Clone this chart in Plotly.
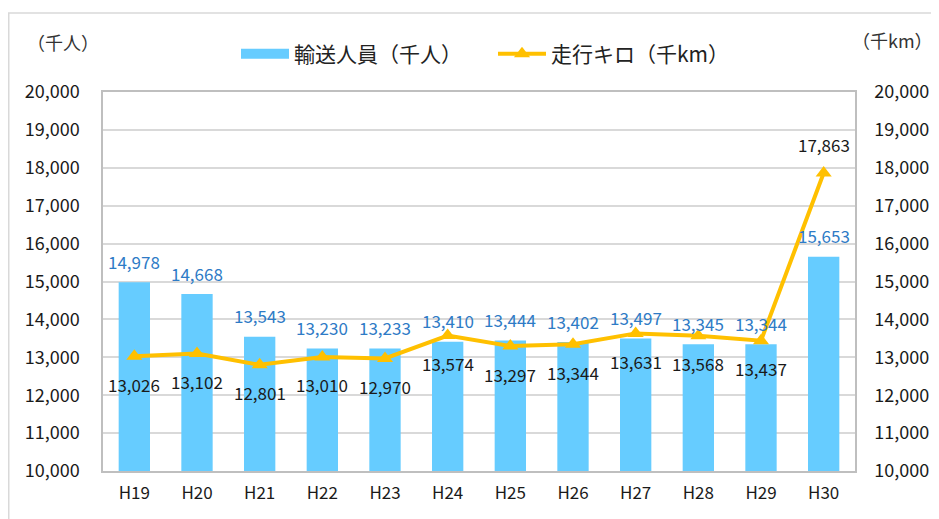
import plotly.graph_objects as go

categories = ["H19", "H20", "H21", "H22", "H23", "H24", "H25", "H26", "H27", "H28", "H29", "H30"]
passengers = [14978, 14668, 13543, 13230, 13233, 13410, 13444, 13402, 13497, 13345, 13344, 15653]
distance = [13026, 13102, 12801, 13010, 12970, 13574, 13297, 13344, 13631, 13568, 13437, 17863]
y_ticks = [10000, 11000, 12000, 13000, 14000, 15000, 16000, 17000, 18000, 19000, 20000]

BAR_COLOR = "#66CCFF"
LINE_COLOR = "#FFC000"
FONT = "Noto Sans CJK JP"

fig = go.Figure()
fig.add_trace(go.Bar(
    x=categories, y=passengers, name="輸送人員（千人）",
    marker=dict(color=BAR_COLOR, line=dict(width=0)),
    width=0.5, yaxis="y", showlegend=False,
))
# legend entry for bars drawn as a wide swatch
fig.add_trace(go.Scatter(
    x=[None], y=[None], name="輸送人員（千人）", mode="lines",
    line=dict(color=BAR_COLOR, width=13), yaxis="y", hoverinfo="skip",
))
fig.add_trace(go.Scatter(
    x=categories, y=distance, name="走行キロ（千km）",
    mode="lines+markers", line=dict(color=LINE_COLOR, width=4),
    marker=dict(symbol="triangle-up", size=14, color=LINE_COLOR),
    yaxis="y2",
))

annotations = []
for c, v in zip(categories, passengers):
    annotations.append(dict(x=c, y=v, xref="x", yref="y", text=f"{v:,}",
                            showarrow=False, yanchor="middle", yshift=21,
                            font=dict(size=17, color="#2E7BC6", family=FONT)))
for i, (c, v) in enumerate(zip(categories, distance)):
    shift = 28 if i == len(categories) - 1 else -28
    annotations.append(dict(x=c, y=v, xref="x", yref="y2", text=f"{v:,}",
                            showarrow=False, yanchor="middle", yshift=shift,
                            font=dict(size=17, color="#1A1A1A", family=FONT)))
# axis unit titles
annotations.append(dict(x=(63 - 103) / 752, y=(471 - 42) / 379, xref="paper", yref="paper",
                        text="（千人）", showarrow=False, xanchor="center", yanchor="middle",
                        font=dict(size=18, color="#333", family=FONT)))
annotations.append(dict(x=(892 - 103) / 752, y=(471 - 40) / 379, xref="paper", yref="paper",
                        text="（千km）", showarrow=False, xanchor="center", yanchor="middle",
                        font=dict(size=18, color="#333", family=FONT)))

axis_common = dict(range=[10000, 20000], tickvals=y_ticks, tickformat=",d",
                   tickfont=dict(size=18, color="#1A1A1A", family=FONT),
                   showgrid=True, gridcolor="#D9D9D9", gridwidth=1.5,
                   zeroline=False, showline=True, linecolor="#BFBFBF", linewidth=1.5,
                   ticks="", automargin=False)

# page body has an ~8px default offset; margins compensate for it
fig.update_layout(
    width=939, height=519,
    margin=dict(l=95, r=92, t=84, b=56, autoexpand=False),
    paper_bgcolor="white", plot_bgcolor="white",
    font=dict(family=FONT, color="#222"),
    xaxis=dict(tickfont=dict(size=17, color="#1A1A1A", family=FONT), showline=True,
               linecolor="#BFBFBF", linewidth=1.5, mirror=True, ticks="", showgrid=False,
               automargin=False, ticklabelstandoff=6, range=[-0.5, 11.5],
               type="category"),
    yaxis=dict(**axis_common, side="left", ticklabelstandoff=18),
    yaxis2=dict(**axis_common, side="right", overlaying="y", ticklabelstandoff=14),
    legend=dict(orientation="h", x=0.5 + 14 / 752, xanchor="center",
                yref="container", y=1 - 46 / 519, yanchor="middle",
                font=dict(size=21, color="#222", family=FONT), itemwidth=48,
                entrywidth=194, entrywidthmode="pixels",
                traceorder="normal", bgcolor="rgba(0,0,0,0)"),
    annotations=annotations,
    shapes=[dict(type="rect", xref="paper", yref="paper",
                 x0=-95 / 752 + 0.001, x1=1.3, y0=-0.3, y1=(379 + 84 - 5) / 379,
                 line=dict(color="#D9D9D9", width=1.5), layer="below")],
    showlegend=True,
)

fig.write_html("out.html")
